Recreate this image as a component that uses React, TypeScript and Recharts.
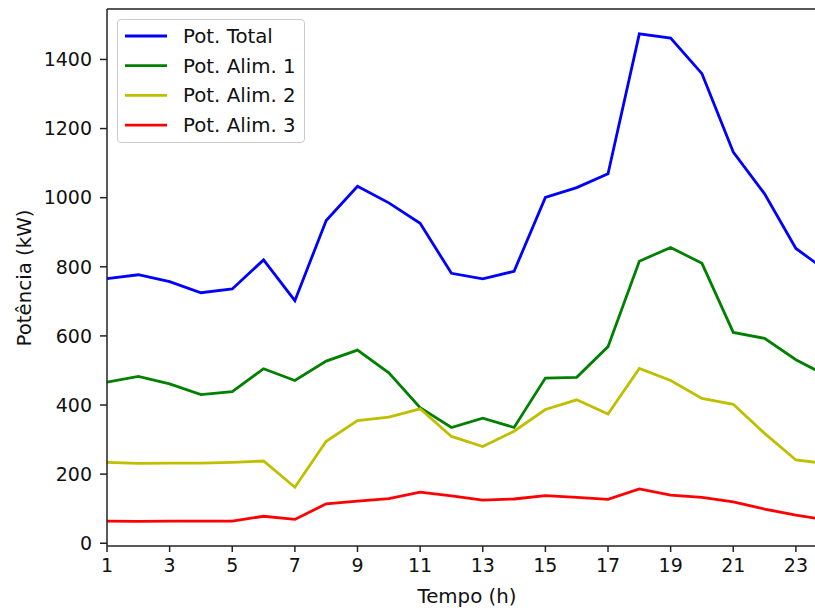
import { LineChart, Line, XAxis, YAxis, Legend, ReferenceLine } from 'recharts';

const hours = [1, 2, 3, 4, 5, 6, 7, 8, 9, 10, 11, 12, 13, 14, 15, 16, 17, 18, 19, 20, 21, 22, 23, 24];
const potTotal = [766, 777, 757, 725, 736, 820, 702, 934, 1033, 985, 926, 781, 765, 787, 1001, 1029, 1069, 1474, 1462, 1359, 1132, 1011, 853, 787];
const potAlim1 = [466, 483, 461, 430, 439, 505, 471, 527, 559, 493, 392, 335, 362, 335, 478, 480, 569, 816, 856, 810, 610, 593, 531, 484];
const potAlim2 = [234, 231, 232, 232, 234, 238, 162, 295, 355, 365, 389, 309, 280, 324, 387, 415, 374, 506, 471, 419, 402, 318, 241, 230];
const potAlim3 = [64, 63, 64, 64, 64, 78, 69, 114, 122, 129, 148, 137, 125, 128, 138, 133, 127, 157, 139, 133, 120, 99, 81, 67];

const seriesNames = ['Pot. Total', 'Pot. Alim. 1', 'Pot. Alim. 2', 'Pot. Alim. 3'];
const xTicks = [1, 3, 5, 7, 9, 11, 13, 15, 17, 19, 21, 23];
const yTicks = [0, 200, 400, 600, 800, 1000, 1200, 1400];

const data = hours.map((t, i) => ({
  t,
  total: potTotal[i],
  a1: potAlim1[i],
  a2: potAlim2[i],
  a3: potAlim3[i],
}));

const AXIS = '#222';
const FONT = 19;
const LABEL_FONT = 19.8;

function LegendBox({ payload }: any) {
  // keep the plotting order, not alphabetical
  const items = [...(payload || [])].sort(
    (a: any, b: any) => seriesNames.indexOf(a.value) - seriesNames.indexOf(b.value)
  );
  return (
    <div
      style={{
        width: 188,
        height: 124,
        boxSizing: 'border-box',
        border: '1px solid #ccc',
        borderRadius: 4,
        background: 'rgba(255,255,255,0.8)',
      }}
    >
      <svg width={188} height={124} style={{ display: 'block', marginTop: -1, marginLeft: -1 }}>
        {items.map((entry: any, i: number) => {
          const y = 17 + i * 29.7;
          return (
            <g key={entry.value}>
              <line x1={8} x2={50} y1={y} y2={y} stroke={entry.color} strokeWidth={2.8} />
              <text x={66} y={y + 7} fontSize={LABEL_FONT} fill="#111">
                {entry.value}
              </text>
            </g>
          );
        })}
      </svg>
    </div>
  );
}

export default function App() {
  return (
    <div
      style={{
        position: 'absolute',
        left: 0,
        top: 0,
        width: 815,
        height: 610,
        background: '#fff',
        fontFamily: '"DejaVu Sans", sans-serif',
        overflow: 'hidden',
      }}
    >
      <LineChart width={815} height={610} data={data} margin={{ top: 9, right: 0, bottom: 0, left: 0 }}>
        <XAxis
          dataKey="t"
          type="number"
          domain={[1, 23.61]}
          allowDataOverflow
          ticks={xTicks}
          height={64}
          tickSize={6}
          tickMargin={7}
          axisLine={{ stroke: AXIS, strokeWidth: 1.5 }}
          tickLine={{ stroke: AXIS, strokeWidth: 1.5 }}
          tick={{ fill: '#111', fontSize: FONT }}
          label={{
            content: () => (
              <text x={467} y={603} textAnchor="middle" fontSize={LABEL_FONT} fill="#111">
                Tempo (h)
              </text>
            ),
          }}
        />
        <YAxis
          type="number"
          domain={[-8, 1546]}
          allowDataOverflow
          ticks={yTicks}
          width={107}
          tickSize={7}
          tickMargin={8}
          axisLine={{ stroke: AXIS, strokeWidth: 1.5 }}
          tickLine={{ stroke: AXIS, strokeWidth: 1.5 }}
          tick={{ fill: '#111', fontSize: FONT }}
          label={{
            content: () => (
              <text x={31} y={278} transform="rotate(-90 31 278)" textAnchor="middle" fontSize={LABEL_FONT} fill="#111">
                Potência (kW)
              </text>
            ),
          }}
        />
        <ReferenceLine y={1546} stroke={AXIS} strokeWidth={1.5} />
        <Legend
          layout="vertical"
          align="center"
          verticalAlign="middle"
          content={<LegendBox />}
          wrapperStyle={{ position: 'absolute', left: 117, top: 19, width: 188, height: 124 }}
        />
        <Line type="linear" dataKey="total" name="Pot. Total" stroke="#0000ff" strokeWidth={2.8} dot={false} isAnimationActive={false} />
        <Line type="linear" dataKey="a1" name="Pot. Alim. 1" stroke="#008000" strokeWidth={2.8} dot={false} isAnimationActive={false} />
        <Line type="linear" dataKey="a2" name="Pot. Alim. 2" stroke="#bfbf00" strokeWidth={2.8} dot={false} isAnimationActive={false} />
        <Line type="linear" dataKey="a3" name="Pot. Alim. 3" stroke="#ff0000" strokeWidth={2.8} dot={false} isAnimationActive={false} />
      </LineChart>
    </div>
  );
}
